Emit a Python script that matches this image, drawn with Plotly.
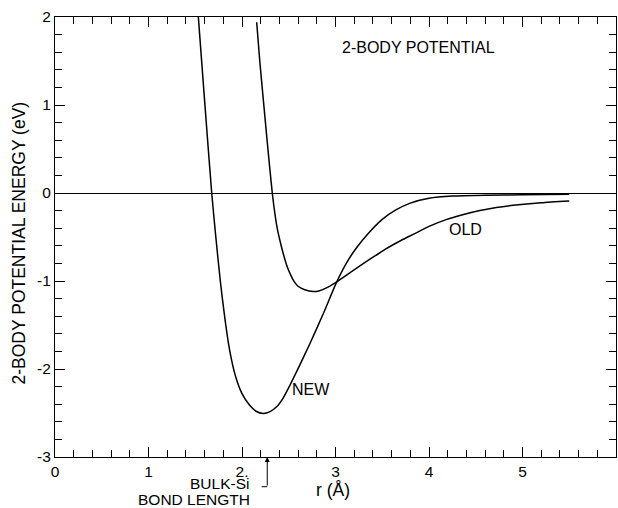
import plotly.graph_objects as go

# ---- data ----
new_r = [1.533, 1.60, 1.676, 1.72, 1.77, 1.82, 1.87, 1.93, 2.00, 2.08, 2.15, 2.228,
         2.30, 2.37, 2.44, 2.51, 2.62, 2.727, 2.87, 3.013, 3.12, 3.227, 3.35, 3.50,
         3.65, 3.80, 4.00, 4.25, 4.60, 5.00, 5.50]
new_v = [2.0, 1.05, 0.0, -0.50, -1.02, -1.45, -1.80, -2.08, -2.28, -2.41, -2.48, -2.505,
         -2.485, -2.43, -2.33, -2.19, -1.95, -1.71, -1.37, -1.01, -0.79, -0.62, -0.46, -0.30,
         -0.19, -0.115, -0.06, -0.035, -0.025, -0.02, -0.015]

old_r = [2.157, 2.19, 2.228, 2.27, 2.30, 2.324, 2.35, 2.38, 2.41, 2.435, 2.478, 2.52,
         2.56, 2.60, 2.67, 2.763, 2.83, 2.92, 3.013, 3.15, 3.30, 3.43, 3.547, 3.70,
         3.832, 4.00, 4.19, 4.35, 4.545, 4.72, 4.90, 5.20, 5.50]
old_v = [1.94, 1.50, 1.06, 0.58, 0.25, 0.0, -0.22, -0.42, -0.56, -0.665, -0.82, -0.93,
         -1.01, -1.06, -1.10, -1.12, -1.11, -1.07, -1.01, -0.91, -0.80, -0.71, -0.63, -0.54,
         -0.47, -0.38, -0.30, -0.25, -0.20, -0.165, -0.14, -0.11, -0.09]

x_tickvals = [0, 1, 2, 3, 4, 5, 6]
x_ticktext = ["0", "1", "2.", "3", "4", "5", "6"]
y_tickvals = [2, 1, 0, -1, -2, -3]
y_ticktext = ["2", "1", "0", "-1", "-2", "-3"]

bulk_si_bond = 2.27
new_label = (2.74, -2.23)
old_label = (4.385, -0.42)

FONT = "Liberation Sans"
fig = go.Figure()
line = dict(color="black", width=1.5, shape="spline", smoothing=0.6)
fig.add_trace(go.Scatter(x=new_r, y=new_v, mode="lines", line=line, hoverinfo="skip"))
fig.add_trace(go.Scatter(x=old_r, y=old_v, mode="lines", line=line, hoverinfo="skip"))

axis_common = dict(
    showline=True, linecolor="black", linewidth=1, mirror="ticks",
    ticks="inside", ticklen=10, tickwidth=1, tickcolor="black",
    showgrid=False, tickfont=dict(family=FONT, size=15.5, color="black"),
    minor=dict(ticks="inside", ticklen=7, tickwidth=1, tickcolor="black", dtick=0.2, showgrid=False),
)
fig.update_xaxes(range=[0, 6], tickvals=x_tickvals, ticktext=x_ticktext, zeroline=False, **axis_common)
fig.update_yaxes(range=[-3, 2], tickvals=y_tickvals, ticktext=y_ticktext,
                 zeroline=True, zerolinecolor="black", zerolinewidth=1, **axis_common)

ann_font = dict(family=FONT, size=16, color="black")
big_font = dict(family=FONT, size=17.5, color="black")
low_font = dict(family=FONT, size=15.5, color="black")
fig.update_layout(
    width=618, height=508,
    margin=dict(l=55, r=2, t=17, b=51),
    paper_bgcolor="white", plot_bgcolor="white",
    showlegend=False,
    annotations=[
        dict(text="2-BODY POTENTIAL", xref="paper", yref="paper", x=0.508, y=0.930,
             xanchor="left", yanchor="middle", showarrow=False, font=ann_font),
        dict(text="NEW", x=new_label[0], y=new_label[1], xref="x", yref="y",
             showarrow=False, font=ann_font),
        dict(text="OLD", x=old_label[0], y=old_label[1], xref="x", yref="y",
             showarrow=False, font=ann_font),
        dict(text="2-BODY POTENTIAL ENERGY (eV)", xref="paper", yref="paper",
             x=-0.0624, y=0.4875, textangle=-90, showarrow=False, font=big_font,
             xanchor="center", yanchor="middle"),
        dict(text="r (Å)", xref="paper", yref="paper", x=0.495, y=-0.075,
             showarrow=False, font=big_font, xanchor="center", yanchor="middle"),
        dict(text="BULK-Si", xref="x", yref="paper", x=2.093, y=-0.0598,
             xanchor="right", yanchor="middle", showarrow=False, font=low_font),
        dict(text="BOND LENGTH", xref="x", yref="paper", x=2.104, y=-0.0977,
             xanchor="right", yanchor="middle", showarrow=False, font=low_font),
        dict(text="", xref="x", yref="paper", x=bulk_si_bond, y=0, ax=0, ay=30,
             showarrow=True, arrowhead=2, arrowsize=1, arrowwidth=1, arrowcolor="black",
             standoff=0),
    ],
    shapes=[
        dict(type="line", xref="x", yref="paper", x0=bulk_si_bond - 0.06, x1=bulk_si_bond,
             y0=-0.0675, y1=-0.0675, line=dict(color="black", width=1)),
    ],
)

fig.write_html("out.html", config={"displayModeBar": False})
